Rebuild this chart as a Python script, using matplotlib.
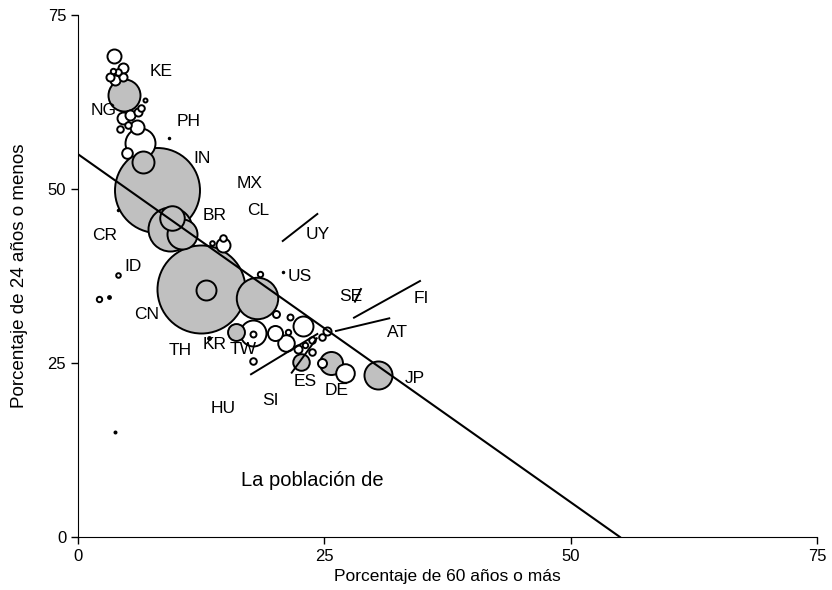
import numpy as np
import matplotlib
matplotlib.use('Agg')
from matplotlib import pyplot as plt

plt.rcParams['font.family'] = ['Liberation Sans', 'DejaVu Sans']

# burbujas destacadas (gris): % 60+, % 24-, poblacion (millones)
gris_x = [12.48, 7.97, 9.34, 18.14, 10.56, 9.49, 4.70, 6.60, 13.04, 16.04, 22.68, 25.68, 30.45]
gris_y = [35.63, 49.86, 44.25, 34.30, 43.53, 45.83, 63.51, 53.88, 35.42, 29.45, 25.14, 24.93, 23.28]
gris_pob = [1300, 1212, 325, 288, 151, 101, 172, 81, 67, 48, 46, 89, 132]

# resto de paises (blanco)
blanco_x = [6.29, 17.81, 22.84, 27.10, 21.06, 19.99, 3.65, 14.72, 5.96, 4.60, 4.52, 3.76, 5.28,
            5.00, 24.76, 3.25, 4.60, 6.14, 25.27, 22.33, 20.10, 17.76, 24.76, 23.75, 23.75,
            4.11, 6.39, 5.10, 4.31, 14.69, 17.76, 21.52, 21.31, 23.04, 18.47, 3.58, 2.16,
            4.09, 13.57, 6.80, 3.76, 9.21, 20.78, 4.09]
blanco_y = [56.57, 29.31, 30.32, 23.56, 27.87, 29.31, 69.11, 41.95, 58.91, 60.16, 67.39, 65.66, 60.63,
            55.22, 25.00, 66.09, 66.16, 61.06, 29.60, 27.01, 32.04, 29.17, 28.74, 28.30, 26.58,
            66.81, 61.57, 59.20, 58.55, 42.92, 25.29, 31.61, 29.45, 27.59, 37.79, 66.95, 34.15,
            37.64, 42.28, 62.72, 15.13, 57.37, 38.12, 46.98]
blanco_pob = [151, 113, 67, 58, 46, 38, 33, 33, 33, 24, 17, 17, 17,
              19, 13.6, 11, 11, 11, 11, 11, 8.2, 6, 7.3, 7.3, 7.3,
              7.3, 7.3, 7.3, 7.3, 7.3, 7.3, 6, 4.9, 4.9, 4.9, 4.9, 4.9,
              3.6, 3.6, 2.7, 0.7, 0.4, 0.4, 0.4]

# puntos negros
negro_x = [3.18, 13.30]
negro_y = [34.53, 28.59]

etiquetas = ['KE', 'NG', 'PH', 'IN', 'MX', 'CL', 'BR', 'UY', 'CR', 'ID', 'US', 'SE', 'FI',
             'CN', 'AT', 'TH', 'KR', 'TW', 'JP', 'ES', 'DE', 'SI', 'HU']
etiq_x = [8.39, 2.57, 11.19, 12.55, 17.46, 18.30, 13.90, 24.29, 2.74, 5.58, 22.46, 27.68, 34.88,
          6.97, 32.45, 10.35, 13.90, 16.78, 34.20, 23.04, 26.26, 19.56, 14.75]
etiq_y = [66.85, 61.21, 59.67, 54.41, 50.82, 46.84, 46.26, 43.49, 43.25, 38.84, 37.40, 34.53, 34.30,
          31.90, 29.45, 26.77, 27.59, 26.87, 22.80, 22.31, 21.12, 19.68, 18.49]

# lineas guia de etiquetas
guias = [((20.78, 24.29), (42.53, 46.41)),
         ((28.01, 34.71), (31.51, 36.78)),
         ((28.11, 28.72), (33.81, 35.63)),
         ((26.18, 31.59), (29.60, 31.42)),
         ((17.56, 24.29), (23.38, 29.17)),
         ((21.69, 24.23), (23.61, 28.55))]

k = 3.09  # area del marcador por millon de habitantes

fig = plt.figure(figsize=(8.32, 5.90), dpi=100)
ax = fig.add_axes([0.09375, 0.0898, 0.8882, 0.8848])

# burbujas: las grandes primero
todos = [(x, y, p, '#c0c0c0') for x, y, p in zip(gris_x, gris_y, gris_pob)]
todos += [(x, y, p, 'white') for x, y, p in zip(blanco_x, blanco_y, blanco_pob)]
todos.sort(key=lambda t: -t[2])
for x, y, p, c in todos:
    ax.scatter(x, y, s=p * k, c=c, edgecolors='black', linewidths=1.4, zorder=2)
ax.scatter(negro_x, negro_y, s=6, c='black', zorder=3)

# recta 60+ + 24- = 55
ax.plot([0, 55], [55, 0], color='black', lw=1.5, zorder=4)

for xs, ys in guias:
    ax.plot(xs, ys, color='black', lw=1.4, zorder=4)

for t, x, y in zip(etiquetas, etiq_x, etiq_y):
    ax.text(x, y, t, fontsize=12.5, ha='center', va='center', zorder=5)

ax.text(23.75, 8.19, 'La población de', fontsize=14.5, ha='center', va='center')

ax.set_xlim(0, 75)
ax.set_ylim(0, 75)
ax.set_xticks([0, 25, 50, 75])
ax.set_yticks([0, 25, 50, 75])
ax.tick_params(direction='out', length=5, labelsize=12, width=1)
ax.spines['top'].set_visible(False)
ax.spines['right'].set_visible(False)
ax.set_xlabel('Porcentaje de 60 años o más', fontsize=12.5, labelpad=4)
ax.set_ylabel('Porcentaje de 24 años o menos', fontsize=13.5, labelpad=14)

plt.savefig('out.png', dpi=100)
